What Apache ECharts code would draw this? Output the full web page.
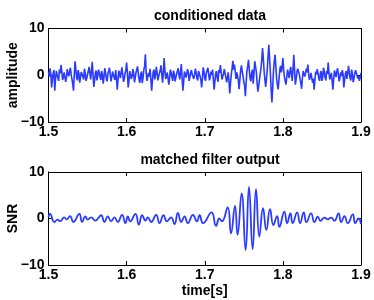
<!DOCTYPE html>
<html><head><meta charset="utf-8">
<script src="https://cdn.jsdelivr.net/npm/echarts@6/dist/echarts.min.js"></script>
<style>html,body{margin:0;padding:0;background:#fff}#c{width:374px;height:300px}</style>
</head><body><div id="c"></div><script>
// ---- data ----
const dataStart = 1.5;          // first sample time of conditioned data
const dataStep = 0.001;         // sample spacing (s)
const dataValues = [
 0.8, -0.3, 1.5, 0.2, -2.6, -0.9, 0.4, 1.1, -3.3, -0.8, 0.9, 1.3, -0.6, -1.2, 1.2, 0.4, 2.2, 0.9, -1.0, -0.4,
 0.6, 0.9, -1.4, -0.5, 1.3, 0.3, -0.2, 0.8, 1.6, 0.1, -0.8, -1.9, -3.3, 0.2, 3.0, 1.2, -0.5, -1.1, 1.1, 0.3,
 -1.6, -0.4, 0.7, 1.1, -0.3, -0.9, 1.4, 0.5, -1.2, -0.6, 0.2, 0.9, 1.8, 0.4, -0.9, 0.8, 2.9, 0.1, -2.5, -1.1,
 0.5, 1.0, -1.1, -0.2, 1.2, 0.6, -0.4, -1.0, 0.9, 0.2, -1.8, -0.5, 1.5, 0.7, -0.7, -1.3, 0.3, 0.9, 1.6, 0.2,
 -1.3, -0.4, 0.8, 1.2, -0.5, -1.0, 1.1, -0.6, -3.1, -0.9, 1.0, 0.3, -0.6, 0.6, 1.7, 0.2, -1.4, -0.8, 0.4, 1.1,
 2.7, 0.4, -2.6, -1.2, 0.9, 1.3, -0.8, -0.2, 1.3, 0.5, -1.5, -0.6, 0.6, 1.0, 1.9, 0.3, -1.0, -1.6, 0.2, 0.8,
 -1.7, -0.5, 1.1, 2.0, 4.5, 0.6, -1.2, -0.4, 0.5, -0.3, 1.4, -0.8, -3.3, -1.2, 0.7, 1.2, -0.9, 0.1, 1.8, 0.6,
 -1.1, -0.3, 0.4, 1.0, 2.1, 0.2, -1.6, 0.5, 3.7, 1.1, -0.8, -0.2, 0.6, -0.7, -2.0, -0.6, 1.2, 0.6, -0.4, -1.2,
 1.0, 0.3, -1.3, -0.5, 0.3, 0.9, 1.5, 0.1, -0.9, 0.6, 2.4, -0.5, -3.3, -1.4, 0.8, 0.2, -0.5, 0.4, 1.3, 0.6,
 -1.2, -0.4, 0.6, 1.1, 0.1, -0.3, -0.8, 0.2, 1.4, 0.5, -0.6, -1.1, 0.9, 0.4, 0.3, -0.9, -2.6, -0.7, 1.7, 0.8,
 -0.7, -1.2, 0.5, 0.9, 1.6, 0.3, -1.1, -0.4, 0.8, 0.1, 1.2, -0.9, -3.1, -1.3, 0.4, 0.9, -0.6, -1.4, 1.1, 0.5,
 2.2, 0.7, -0.9, -0.3, 0.3, 1.3, 1.0, -0.4, -1.5, -0.6, 0.6, -1.2, -3.9, -1.6, 0.2, 1.5, 3.1, 1.2, 2.3, 0.9,
 -0.8, 0.6, 0.5, -1.1, -3.0, -0.8, 1.2, 2.1, 0.8, -0.2, -1.4, -2.2, -4.5, -1.5, 1.0, 2.0, 3.3, 1.1, -0.6, -1.3,
 0.4, 1.2, -1.8, 0.5, 3.0, 1.9, 0.7, -1.6, -3.5, -2.4, -1.0, 0.3, 1.5, 3.4, 5.8, 3.5, 0.8, -1.0, -2.5, -0.8,
 1.2, 4.0, 6.5, 3.6, 0.5, -3.2, -5.8, -2.6, 1.0, 3.0, 4.4, 1.9, -0.8, -2.1, -3.0, -0.9, 1.1, 2.0, 0.6, 1.7,
 3.7, 1.2, -0.4, -1.3, -2.0, -0.3, 1.2, 0.4, -0.6, 0.7, 1.8, 0.3, -1.2, 1.5, 4.4, 1.0, -2.0, -0.8, 0.7, 1.4,
 1.1, 0.2, -0.8, -1.7, -2.9, -0.6, 0.9, 1.3, -0.3, 0.4, 1.4, 0.6, 2.3, 0.2, -1.0, -0.3, 0.5, -0.6, -1.6, -0.7,
 -3.1, -1.0, 0.8, 0.2, 1.3, 0.5, -0.7, -1.2, 0.4, 0.9, -1.2, -0.4, 1.6, 0.8, -0.5, -1.1, 0.9, 0.3, 2.7, 0.6,
 -0.9, -0.2, 0.5, -1.0, -3.1, -0.9, 1.0, 0.4, -0.4, 0.7, 1.5, 0.2, -1.3, -0.6, 0.6, -0.2, 1.1, 0.3, -2.6, -1.0,
 0.3, 0.9, -0.8, 0.4, 2.0, 0.6, -0.6, -1.1, 1.2, 0.3, -1.5, -0.7, 0.4, 1.1, 0.9, -0.1, -0.7, -0.2, -1.2, -0.4,
 0.5
];
const filterTimes = [
 1.5000, 1.5019, 1.5075, 1.5117, 1.5147, 1.5203, 1.5233, 1.5276, 1.5318, 1.5395,
 1.5430, 1.5472, 1.5502, 1.5545, 1.5600, 1.5673, 1.5716, 1.5759, 1.5801, 1.5844,
 1.5887, 1.5942, 1.5985, 1.6015, 1.6045, 1.6113, 1.6156, 1.6199, 1.6241, 1.6271,
 1.6314, 1.6378, 1.6421, 1.6472, 1.6515, 1.6570, 1.6613, 1.6656, 1.6699, 1.6741,
 1.6784, 1.6849, 1.6900, 1.6934, 1.6977, 1.7087, 1.7144, 1.7186, 1.7220, 1.7293,
 1.7336, 1.7387, 1.7420, 1.7472, 1.7523, 1.7566, 1.7613, 1.7656, 1.7699, 1.7746,
 1.7788, 1.7836, 1.7878, 1.7926, 1.7955, 1.8019, 1.8054, 1.8096, 1.8126, 1.8182,
 1.8220, 1.8267, 1.8301, 1.8361, 1.8404, 1.8446, 1.8481, 1.8532, 1.8575, 1.8618,
 1.8660, 1.8712, 1.8746, 1.8788, 1.8831, 1.8895, 1.8926, 1.8968, 1.9000
];
const filterValues = [
 0.3, 1.0, -0.75, -0.25, -0.6, 0.25, -0.2, 0.5, -0.75, 1.0,
 -0.75, 0.45, -0.25, 0.25, -0.45, 0.7, -0.75, 0.45, -0.6, 0.25,
 -0.75, 0.8, -1.0, 0.45, -0.6, 1.0, -1.3, 0.7, -0.45, 0.25,
 -0.75, 0.8, -1.0, 0.7, -0.6, 0.25, -1.2, 1.2, -0.75, 0.45,
 -1.0, 0.8, -0.6, 0.7, -1.0, 1.3, -1.6, 0.0, -0.6, 2.4,
 -3.2, 2.7, -3.5, 5.4, -6.8, 6.8, -6.6, 6.3, -3.9, 2.2,
 -2.5, 2.0, -1.4, 0.5, -1.8, 1.5, -1.0, 1.1, -1.0, 1.3,
 -1.0, 1.3, -0.8, 1.1, -0.8, 0.4, -0.5, 0.2, -0.2, 0.2,
 -0.5, 1.1, -0.8, 0.5, -1.0, 0.9, -1.0, 0.0, -1.2
];
const xTickValues = [1.5, 1.6, 1.7, 1.8, 1.9];
const yTickValues = [-10, 0, 10];
const titles = ['conditioned data', 'matched filter output'];
const yNames = ['amplitude', 'SNR'];
const xName = 'time[s]';

// ---- chart ----
const blue = '#2a3bff';
const font = '"Liberation Sans", Arial, Helvetica, sans-serif';
const topSeries = dataValues.map((v, i) => [dataStart + i * dataStep, v]);
const botSeries = filterTimes.map((t, i) => [t, filterValues[i]]);
const lineSty = { color: '#000', width: 1 };
const tickSty = { show: true, inside: true, length: 4, lineStyle: { color: '#000', width: 1 } };
const labelSty = { fontFamily: font, fontWeight: 'bold', fontSize: 14, color: '#000' };
const nameSty = { fontFamily: font, fontWeight: 'bold', fontSize: 14, color: '#000' };

function xAxes(g, withName) {
  return [{
    type: 'value', gridIndex: g, position: 'bottom', min: 1.5, max: 1.9, interval: 0.1,
    axisLine: { show: true, onZero: false, lineStyle: lineSty }, axisTick: tickSty,
    axisLabel: Object.assign({ margin: 3, formatter: v => xTickValues.find(x => Math.abs(x - v) < 1e-6) !== undefined ? v.toFixed(1) : '' }, labelSty),
    splitLine: { show: false },
    name: withName ? xName : '', nameLocation: 'middle', nameGap: 19, nameMoveOverlap: false, nameTextStyle: nameSty
  }, {
    type: 'value', gridIndex: g, position: 'top', min: 1.5, max: 1.9, interval: 0.1,
    axisLine: { show: true, onZero: false, lineStyle: lineSty }, axisTick: tickSty,
    axisLabel: { show: false }, splitLine: { show: false }
  }];
}
function yAxes(g) {
  return [{
    type: 'value', gridIndex: g, position: 'left', min: -10, max: 10, interval: 10,
    axisLine: { show: true, onZero: false, lineStyle: lineSty }, axisTick: tickSty,
    axisLabel: Object.assign({ margin: 4, formatter: v => yTickValues.includes(v) ? String(v).replace('-', '\u2212') : '' }, labelSty),
    splitLine: { show: false },
    name: yNames[g], nameLocation: 'middle', nameGap: 28, nameRotate: 90, nameMoveOverlap: false, nameTextStyle: nameSty
  }, {
    type: 'value', gridIndex: g, position: 'right', min: -10, max: 10, interval: 10,
    axisLine: { show: true, onZero: false, lineStyle: lineSty }, axisTick: tickSty,
    axisLabel: { show: false }, splitLine: { show: false }
  }];
}

const chart = echarts.init(document.getElementById('c'), null, { renderer: 'canvas' });
chart.setOption({
  animation: false,
  backgroundColor: '#fff',
  title: [
    { text: titles[0], left: 205, top: 4, textAlign: 'center', textStyle: { fontFamily: font, fontWeight: 'bold', fontSize: 14, color: '#000' } },
    { text: titles[1], left: 205, top: 148, textAlign: 'center', textStyle: { fontFamily: font, fontWeight: 'bold', fontSize: 14, color: '#000' } }
  ],
  grid: [
    { left: 48.5, width: 312.5, top: 28.5, height: 93.5, containLabel: false, outerBoundsMode: 'none' },
    { left: 48.5, width: 312.5, top: 172, height: 93, containLabel: false, outerBoundsMode: 'none' }
  ],
  xAxis: xAxes(0, false).concat(xAxes(1, true)),
  yAxis: yAxes(0).concat(yAxes(1)),
  series: [
    { type: 'line', xAxisIndex: 0, yAxisIndex: 0, data: topSeries, showSymbol: false, lineStyle: { color: blue, width: 1.6 }, itemStyle: { color: blue } },
    { type: 'line', xAxisIndex: 2, yAxisIndex: 2, data: botSeries, smooth: 0.5, showSymbol: false, lineStyle: { color: blue, width: 1.8 }, itemStyle: { color: blue } }
  ]
});
</script></body></html>
